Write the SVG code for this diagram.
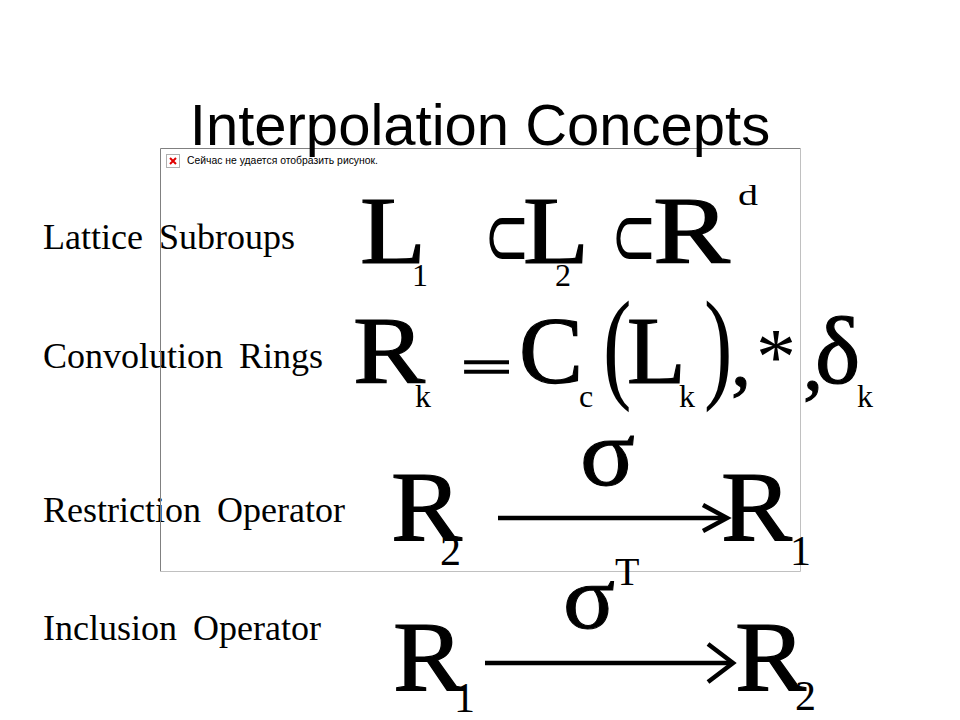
<svg xmlns="http://www.w3.org/2000/svg" width="960" height="720" viewBox="0 0 960 720">
<style>
.lbl{font-family:"Liberation Serif","Times New Roman",serif;font-size:36px;word-spacing:7px;fill:#000}
.m{font-family:"Liberation Serif","Times New Roman",serif;fill:#000}
.big{font-size:96px;stroke:#000;stroke-width:1.2}
.big3{font-size:100px;stroke:#000;stroke-width:1.2}
.sub{font-size:32px}
.sub3{font-size:42px}
.sym{font-family:"DejaVu Sans","DejaVu Serif",sans-serif;fill:#000;font-size:88px}
.title{font-family:"Liberation Sans",Arial,sans-serif;font-size:58px;fill:#000}
.cap{font-family:"Liberation Sans",Tahoma,sans-serif;font-size:11px;fill:#000}
.arr{fill:none;stroke:#000;stroke-width:4.5;stroke-linecap:butt}
</style>
<rect width="960" height="720" fill="#fff"/>

<g id="labels">
<text class="lbl" x="43" y="249">Lattice Subroups</text>
<text class="lbl" x="43" y="368">Convolution Rings</text>
<text class="lbl" x="43" y="522">Restriction Operator</text>
<text class="lbl" x="43" y="640">Inclusion Operator</text>
</g>

<g id="picture-frame">
<path d="M160.5 571.5 V148.5 H800.5" fill="none" stroke="#808080" stroke-width="1"/>
<path d="M800.5 148.5 V571.5 H160.5" fill="none" stroke="#c0c0c0" stroke-width="1"/>
<rect x="166.5" y="154.5" width="13" height="13" fill="#fff" stroke="#b0b0b0" stroke-width="1"/>
<path d="M170 158 L176 164 M176 158 L170 164" stroke="#e00000" stroke-width="2" fill="none"/>
<text class="cap" x="187" y="164" textLength="191" lengthAdjust="spacingAndGlyphs">Сейчас не удается отобразить рисунок.</text>
</g>

<g id="title">
<text class="title" x="480" y="145" text-anchor="middle">Interpolation Concepts</text>
</g>

<g id="eq-lattice">
<text class="m big" x="360" y="263" textLength="66" lengthAdjust="spacingAndGlyphs">L</text>
<text class="m sub" x="412" y="286">1</text>
<text class="sym" x="484" y="266" transform="translate(484 0) scale(0.62 1) translate(-484 0)">⊂</text>
<text class="m big" x="523" y="263" textLength="66" lengthAdjust="spacingAndGlyphs">L</text>
<text class="m sub" x="555" y="286">2</text>
<text class="sym" x="611" y="266" transform="translate(611 0) scale(0.62 1) translate(-611 0)">⊂</text>
<text class="m big" x="653" y="263" textLength="77" lengthAdjust="spacingAndGlyphs">R</text>
<text class="m" x="738" y="205" font-size="30" textLength="20" lengthAdjust="spacingAndGlyphs">d</text>
</g>

<g id="eq-convolution">
<text class="m big" x="353" y="383" textLength="72" lengthAdjust="spacingAndGlyphs">R</text>
<text class="m sub" x="415" y="407">k</text>
<text class="m" x="461" y="383" font-size="48" stroke="#000" stroke-width="1.5" textLength="51" lengthAdjust="spacingAndGlyphs">=</text>
<text class="m big" x="519" y="383">C</text>
<text class="m sub" x="579" y="407">c</text>
<text class="m" x="603" y="386" font-size="122" transform="translate(603 0) scale(0.7 1) translate(-603 0)">(</text>
<text class="m big" x="627" y="383">L</text>
<text class="m sub" x="679" y="407">k</text>
<text class="m" x="704" y="386" font-size="122" transform="translate(704 0) scale(0.7 1) translate(-704 0)">)</text>
<text class="m" x="731" y="385" font-size="80" stroke="#000" stroke-width="1">,</text>
<text class="m" x="756" y="384" font-size="80">*</text>
<text class="m" x="803" y="389" font-size="80" stroke="#000" stroke-width="1">,</text>
<text class="m big" x="815" y="383">δ</text>
<text class="m sub" x="857" y="407">k</text>
</g>

<g id="eq-restriction">
<text class="m big3" x="391" y="540" textLength="71" lengthAdjust="spacingAndGlyphs">R</text>
<text class="m sub3" x="440" y="565">2</text>
<text class="m" x="580" y="485" font-size="95" stroke="#000" stroke-width="1" textLength="55" lengthAdjust="spacingAndGlyphs">σ</text>
<text class="m big3" x="721" y="540" textLength="71" lengthAdjust="spacingAndGlyphs">R</text>
<text class="m sub3" x="790" y="565">1</text>
</g>

<g id="eq-inclusion">
<text class="m big3" x="393" y="690" textLength="71" lengthAdjust="spacingAndGlyphs">R</text>
<text class="m sub3" x="454" y="712">1</text>
<text class="m" x="563" y="628" font-size="92" stroke="#000" stroke-width="1" textLength="52" lengthAdjust="spacingAndGlyphs">σ</text>
<text class="m" x="615" y="585" font-size="40">T</text>
<text class="m big3" x="735" y="690" textLength="71" lengthAdjust="spacingAndGlyphs">R</text>
<text class="m sub3" x="795" y="710">2</text>
</g>

<g id="connectors">
<path class="arr" d="M498 518 H725"/>
<path class="arr" d="M703 505 L727 518 L703 531"/>
<path class="arr" d="M485 663 H731"/>
<path class="arr" d="M708 644 L733 663 L708 682"/>
</g>
</svg>
